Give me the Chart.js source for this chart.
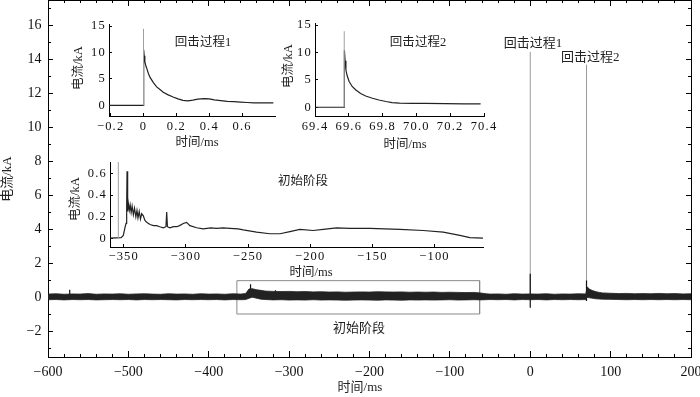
<!DOCTYPE html>
<html><head><meta charset="utf-8">
<script src="https://cdn.jsdelivr.net/npm/chart.js@4.4.1/dist/chart.umd.min.js"></script>
<style>
html,body{margin:0;padding:0;background:#fff;}
#wrap{position:relative;width:700px;height:397px;overflow:hidden;background:#fff;}
#wrap canvas{position:absolute;left:0;top:0;}
</style></head><body>
<div id="wrap">
<canvas id="main" width="700" height="397"></canvas>
<canvas id="in1" width="700" height="397"></canvas>
<canvas id="in2" width="700" height="397"></canvas>
<canvas id="in3" width="700" height="397"></canvas>
</div>
<script>
// ---------- main record (kA vs ms): noise-band envelope ----------
const envT = [
 -600,-590,-580,-570,-560,-550,-540,-530,-520,-510,
 -500,-490,-480,-470,-460,-450,-440,-430,-420,-410,
 -400,-390,-380,-370,-360,-354,-350,-346,-340,-335,
 -330,-320,-310,-300,-290,-280,-270,-260,-250,-240,
 -230,-220,-210,-200,-190,-180,-170,-160,-150,-140,
 -130,-120,-110,-100,-90,-80,-70,-62,-55,-50,
 -40,-30,-20,-10,0,10,20,30,40,50,
 60,69,71,74,78,82,86,90,100,110,
 120,130,140,150,160,170,180,190,200];
const envHi = [
 0.20,0.22,0.19,0.21,0.20,0.23,0.19,0.21,0.20,0.22,
 0.19,0.21,0.22,0.20,0.19,0.22,0.20,0.21,0.19,0.22,
 0.20,0.21,0.19,0.22,0.20,0.24,0.50,0.52,0.45,0.42,
 0.38,0.36,0.35,0.36,0.34,0.35,0.33,0.34,0.32,0.33,
 0.31,0.32,0.33,0.32,0.34,0.33,0.32,0.33,0.31,0.32,
 0.31,0.32,0.30,0.31,0.30,0.29,0.30,0.27,0.22,0.20,
 0.21,0.19,0.22,0.20,0.21,0.20,0.22,0.19,0.21,0.20,
 0.22,0.21,0.62,0.48,0.40,0.34,0.30,0.27,0.25,0.23,
 0.24,0.22,0.23,0.22,0.24,0.22,0.23,0.21,0.22];
const envLo = [
 -0.13,-0.12,-0.14,-0.12,-0.13,-0.12,-0.14,-0.13,-0.12,-0.13,
 -0.12,-0.14,-0.12,-0.13,-0.12,-0.13,-0.14,-0.12,-0.13,-0.12,
 -0.13,-0.12,-0.14,-0.12,-0.13,-0.12,-0.05,0.02,-0.05,-0.10,
 -0.12,-0.14,-0.13,-0.15,-0.14,-0.15,-0.13,-0.15,-0.14,-0.15,
 -0.16,-0.15,-0.14,-0.15,-0.16,-0.14,-0.15,-0.16,-0.14,-0.15,
 -0.14,-0.15,-0.14,-0.13,-0.15,-0.14,-0.13,-0.14,-0.13,-0.12,
 -0.13,-0.12,-0.14,-0.12,-0.13,-0.12,-0.14,-0.12,-0.13,-0.12,
 -0.13,-0.12,0.00,-0.02,-0.05,-0.08,-0.09,-0.10,-0.11,-0.12,
 -0.13,-0.12,-0.13,-0.12,-0.13,-0.12,-0.13,-0.12,-0.13];
// short dark spikes in the main record
const spikeT  = [-573, -348, -317, 0, 70];
const spikeHi = [0.45, 0.78, 0.42, 1.4, 1.0];
const spikeLo = [-0.10, 0.00, 0.00, -0.6, -0.2];
// tall grey return-stroke peaks
const strokeT   = [0, 70];
const strokeTop = [14.45, 13.7];
// zoom box marking the initial stage
const boxX = [-365, -63];
const boxY = [-0.97, 0.99];

// ---------- inset 1: return stroke 1 ----------
const ins1T = [-0.21,-0.1,0,0.001,0.004,0.008,0.015,0.02,0.03,0.04,0.06,0.08,0.1,0.12,0.15,0.18,
               0.21,0.24,0.27,0.3,0.33,0.37,0.4,0.43,0.47,0.51,0.55,0.59,0.63,0.67,0.72,0.79];
const ins1I = [0,0,0,10.5,9.4,8.3,7.4,7.0,6.0,5.3,4.3,3.5,3.0,2.5,2.0,1.6,
               1.25,0.95,0.85,1.0,1.2,1.3,1.25,1.05,0.9,0.75,0.7,0.62,0.55,0.5,0.5,0.48];
const ins1Peak = [0, 14.5];
// ---------- inset 2: return stroke 2 ----------
const ins2T = [69.4,69.5,69.573,69.574,69.578,69.583,69.59,69.602,69.62,69.642,69.67,
               69.70,69.74,69.778,69.82,69.856,69.9,69.974,70.05,70.17,70.28,70.38];
const ins2I = [0,0,0,10.4,8.5,6.8,5.8,4.7,3.8,3.15,2.5,
               2.05,1.65,1.33,1.05,0.85,0.75,0.72,0.7,0.67,0.62,0.6];
const ins2Peak = [69.573, 13.9];
// ---------- inset 3: initial stage ----------
const ins3T = [
 -361,-352,-350.3,-349,-348.1,-347.6,-347.3,-346.8,-346.3,-345.5,
 -344.8,-344,-343.2,-342.2,-341.3,-340.2,-339.3,-338.5,-337.5,-336.5,
 -335.5,-334.2,-333,-331.5,-328.8,-326,-323.5,-321,-318.1,-316,
 -315.4,-314.8,-312.8,-310,-307.4,-305,-302.1,-299.4,-296.7,-291.3,
 -286,-280,-275.3,-270,-264.5,-258,-253.8,-243.1,-232.4,-224.3,
 -216.3,-208.3,-197.6,-189.5,-178.8,-168.1,-152,-127.9,-109.1,-93,
 -79.6,-71.6,-61];
const ins3I = [
 0.005,0.01,0.03,0.1,0.14,0.3,0.62,0.25,0.33,0.26,
 0.31,0.24,0.3,0.22,0.28,0.2,0.26,0.19,0.25,0.18,
 0.23,0.21,0.17,0.15,0.13,0.12,0.12,0.11,0.1,0.11,
 0.245,0.11,0.1,0.11,0.11,0.12,0.14,0.15,0.12,0.1,
 0.09,0.1,0.095,0.1,0.095,0.09,0.08,0.06,0.045,0.045,
 0.065,0.085,0.075,0.085,0.1,0.095,0.095,0.085,0.075,0.06,
 0.03,0.01,0.005];
const ins3Peak = [-354.3, 0.75];

// ---------- tick values ----------
const mainXMajor = [-600,-500,-400,-300,-200,-100,0,100,200];
const mainXMinor = [-600,-580,-560,-540,-520,-500,-480,-460,-440,-420,-400,-380,-360,-340,-320,-300,
  -280,-260,-240,-220,-200,-180,-160,-140,-120,-100,-80,-60,-40,-20,0,20,40,60,80,100,120,140,160,180,200];
const mainYMajor = [-2,0,2,4,6,8,10,12,14,16];
const mainYMinor = [-3,-2,-1,0,1,2,3,4,5,6,7,8,9,10,11,12,13,14,15,16,17];
const ins1XTicks = [-0.2,0,0.2,0.4,0.6];
const ins1YTicks = [0,5,10,15];
const ins2XTicks = [69.4,69.6,69.8,70.0,70.2,70.4];
const ins2YTicks = [0,5,10,15];
const ins3XTicks = [-350,-300,-250,-200,-150,-100];
const ins3YTicks = [0,0.2,0.4,0.6];

// ---------- texts ----------
const TXT_T = '时间/ms', TXT_I = '电流/kA';
const TXT_RS1 = '回击过程1', TXT_RS2 = '回击过程2', TXT_INIT = '初始阶段';

// ================= drawing =================
const FONT = '"Liberation Serif","Noto Sans CJK SC",serif';
const fmt = d => v => (Math.abs(v) < 1e-9 ? '0' : v.toFixed(d)).replace('-', '\u2212');

function tickAxis(o) {
  const a = {
    type: 'linear', position: o.pos, min: o.min, max: o.max, weight: o.weight || 0,
    afterBuildTicks: s => { s.ticks = o.ticks.map(v => ({value: v})); },
    afterFit: s => {
      if (s.isHorizontal()) s.height = o.size || 0; else s.width = o.size || 0;
      s.paddingLeft = s.paddingRight = s.paddingTop = s.paddingBottom = 0;
    },
    grid: {display: true, drawOnChartArea: false, drawTicks: true, tickLength: o.len,
           tickColor: '#000', tickWidth: 1, color: '#000'},
    border: {display: !!o.border, color: '#000', width: 1},
    ticks: {display: !!o.labels, padding: o.pad || 0, color: '#111', autoSkip: false,
            maxRotation: 0, minRotation: 0, font: {family: FONT, size: o.fontSize || 14}},
    title: {display: false}
  };
  if (o.labels) a.ticks.callback = v => o.fmt(v);
  return a;
}

function textPlugin(items) {
  return {
    id: 'freeText',
    afterDraw(chart) {
      const ctx = chart.ctx;
      items.forEach(it => {
        let x = it.x, y = it.y;
        if (it.data) { x = chart.scales.x.getPixelForValue(it.x); y = chart.scales.y.getPixelForValue(it.y); }
        ctx.save();
        ctx.letterSpacing = '0px';
        ctx.font = (it.size || 13) + 'px ' + FONT;
        ctx.fillStyle = '#222';
        ctx.textAlign = 'center';
        ctx.textBaseline = 'middle';
        ctx.translate(x, y);
        if (it.rot) ctx.rotate(it.rot * Math.PI / 180);
        ctx.fillText(it.text, 0, 0);
        ctx.restore();
      });
    }
  };
}
const spacingPlugin = { id: 'spacing', beforeDraw(chart) { chart.ctx.letterSpacing = '1.2px'; } };

const xy = (T, V) => T.map((t, i) => ({x: t, y: V[i]}));
function segments(T, lo, hi) {
  const out = [];
  T.forEach((t, i) => { out.push({x: t, y: lo[i]}, {x: t, y: hi[i]}, {x: t, y: null}); });
  return out;
}
const baseOpts = {
  responsive: false, animation: false, events: [],
  plugins: {legend: {display: false}, tooltip: {enabled: false}},
  elements: {point: {radius: 0}, line: {tension: 0}},
  spanGaps: false
};

// ----- main chart -----
new Chart(document.getElementById('main'), {
  type: 'line',
  data: {datasets: [
    {data: xy(envT, envHi), borderColor: '#222', borderWidth: 0.8, fill: false},
    {data: xy(envT, envLo), borderColor: '#222', borderWidth: 0.8, fill: '-1', backgroundColor: '#222'},
    {data: segments(spikeT, spikeLo, spikeHi), borderColor: '#111', borderWidth: 1.2, fill: false},
    {data: segments(strokeT, strokeT.map(() => 0), strokeTop), borderColor: '#9a9a9a', borderWidth: 1, fill: false},
    {data: [{x: boxX[0], y: boxY[0]}, {x: boxX[0], y: boxY[1]}, {x: boxX[1], y: boxY[1]},
            {x: boxX[1], y: boxY[0]}, {x: boxX[0], y: boxY[0]}],
     borderColor: '#8a8a8a', borderWidth: 1, fill: false}
  ]},
  options: Object.assign({}, baseOpts, {
    layout: {padding: {left: 0, top: 0, right: 9, bottom: 0}},
    scales: {
      x:   tickAxis({pos: 'bottom', min: -600, max: 200, ticks: mainXMajor, len: -6, labels: true, fmt: fmt(0), size: 40, border: true, pad: 13, weight: 1}),
      x2:  tickAxis({pos: 'bottom', min: -600, max: 200, ticks: mainXMinor, len: -3}),
      xt:  tickAxis({pos: 'top', min: -600, max: 200, ticks: mainXMajor, len: -6, border: true, weight: 1}),
      xt2: tickAxis({pos: 'top', min: -600, max: 200, ticks: mainXMinor, len: -3}),
      y:   tickAxis({pos: 'left', min: -3.5, max: 17.5, ticks: mainYMajor, len: -5, labels: true, fmt: fmt(0), size: 48, border: true, pad: 11.5, weight: 1}),
      y2:  tickAxis({pos: 'left', min: -3.5, max: 17.5, ticks: mainYMinor, len: -3}),
      yr:  tickAxis({pos: 'right', min: -3.5, max: 17.5, ticks: mainYMajor, len: -5, border: true, weight: 1}),
      yr2: tickAxis({pos: 'right', min: -3.5, max: 17.5, ticks: mainYMinor, len: -3})
    }
  }),
  plugins: [textPlugin([
    {text: TXT_RS1, x: 3.4, y: 14.95, data: true, size: 13},
    {text: TXT_RS2, x: 74.7, y: 14.13, data: true, size: 13},
    {text: TXT_INIT, x: -213, y: -1.81, data: true, size: 13},
    {text: TXT_T, x: 360, y: 388, size: 13},
    {text: TXT_I, x: 8, y: 179, rot: -90, size: 13}
  ])]
});

// ----- insets -----
function inset(id, c) {
  new Chart(document.getElementById(id), {
    type: 'line',
    data: {datasets: [
      {data: [{x: c.peak[0], y: 0}, {x: c.peak[0], y: c.peak[1]}], borderColor: '#a0a0a0', borderWidth: 1, fill: false},
      {data: xy(c.T, c.V), borderColor: '#222', borderWidth: 1.2, fill: false}
    ]},
    options: Object.assign({}, baseOpts, {
      layout: {padding: c.pad},
      scales: {
        x: tickAxis({pos: 'bottom', min: c.xr[0], max: c.xr[1], ticks: c.xt, len: -3, labels: true, fmt: c.xf, size: 20, border: true, pad: c.xpad, fontSize: 12.5}),
        y: tickAxis({pos: 'left', min: c.yr[0], max: c.yr[1], ticks: c.yt, len: -3, labels: true, fmt: c.yf, size: 30, border: true, pad: 6, fontSize: 12.5})
      }
    }),
    plugins: [spacingPlugin, textPlugin(c.texts)]
  });
}
inset('in1', {T: ins1T, V: ins1I, peak: ins1Peak, xr: [-0.21, 0.8], yr: [-2, 15.4], xt: ins1XTicks, yt: ins1YTicks,
  xf: fmt(1), yf: fmt(0), xpad: 6.2,
  pad: {left: 79, top: 24, right: 425, bottom: 261},
  texts: [{text: TXT_RS1, x: 203, y: 43, size: 12.5}, {text: TXT_I, x: 79, y: 68, rot: -90, size: 12.5}, {text: TXT_T, x: 197, y: 143, size: 12.5}]});
inset('in2', {T: ins2T, V: ins2I, peak: ins2Peak, xr: [69.4, 70.4], yr: [-1.6, 15.4], xt: ins2XTicks, yt: ins2YTicks,
  xf: fmt(1), yf: fmt(0), xpad: 6.2,
  pad: {left: 285, top: 23, right: 216, bottom: 261},
  texts: [{text: TXT_RS2, x: 418, y: 43, size: 12.5}, {text: TXT_I, x: 289, y: 66, rot: -90, size: 12.5}, {text: TXT_T, x: 405, y: 145, size: 12.5}]});
inset('in3', {T: ins3T, V: ins3I, peak: ins3Peak, xr: [-361, -61], yr: [-0.077, 0.706], xt: ins3XTicks, yt: ins3YTicks,
  xf: fmt(0), yf: fmt(1), xpad: 5.2,
  pad: {left: 80, top: 162, right: 217, bottom: 130},
  texts: [{text: TXT_INIT, x: 303, y: 182, size: 12.5}, {text: TXT_I, x: 76, y: 199, rot: -90, size: 12.5}, {text: TXT_T, x: 311, y: 273, size: 12.5}]});
</script>
</body></html>
